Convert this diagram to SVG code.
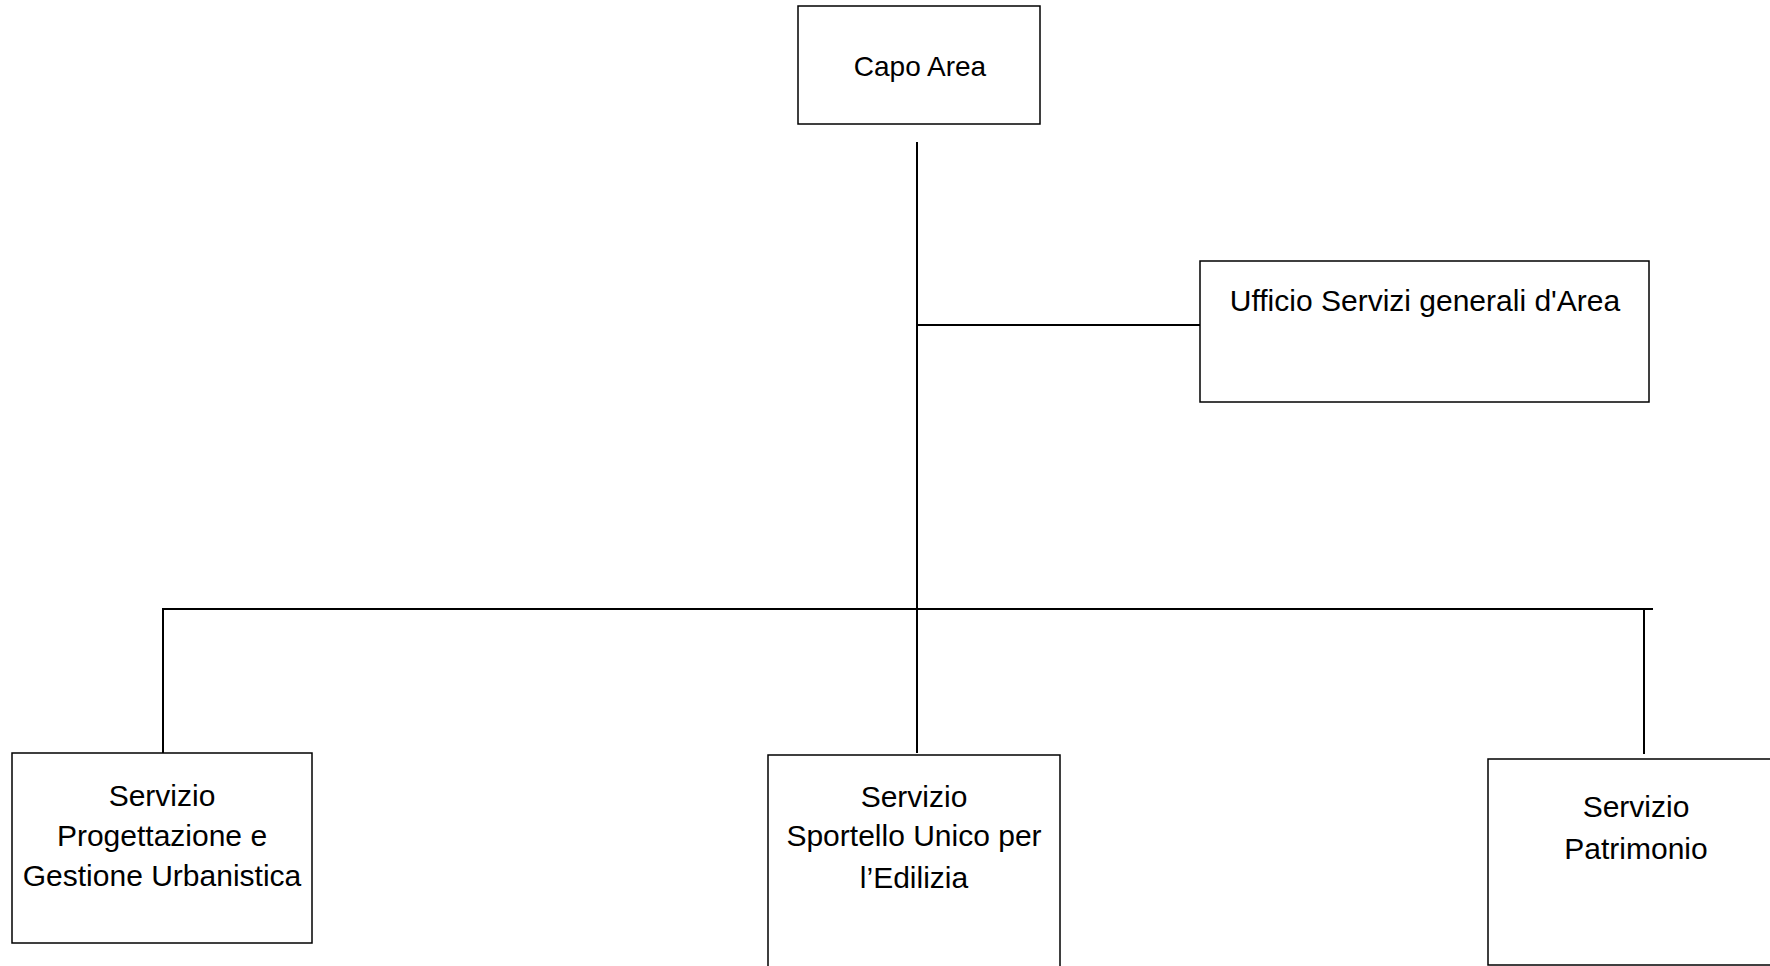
<svg xmlns="http://www.w3.org/2000/svg" width="1770" height="966" viewBox="0 0 1770 966">
<style>
.box{fill:#fff;stroke:#000;stroke-width:1.5}
.ln{stroke:#000;stroke-width:2;fill:none}
text{font-family:"Liberation Sans",Arial,sans-serif;font-size:30px;fill:#000;text-anchor:middle}
</style>
<rect width="1770" height="966" fill="#fff"/>
<g id="connectors">
<line class="ln" x1="917" y1="142" x2="917" y2="753"/>
<line class="ln" x1="917" y1="325" x2="1200" y2="325"/>
<line class="ln" x1="163" y1="609" x2="1653" y2="609"/>
<line class="ln" x1="163" y1="608" x2="163" y2="753"/>
<line class="ln" x1="1644" y1="609" x2="1644" y2="754"/>
</g>
<g id="capo-area">
<rect class="box" x="798" y="6" width="242" height="118"/>
<text x="920" y="76" style="font-size:28px">Capo Area</text>
</g>
<g id="ufficio-servizi">
<rect class="box" x="1200" y="261" width="449" height="141"/>
<text x="1425" y="311">Ufficio Servizi generali d'Area</text>
</g>
<g id="servizio-progettazione">
<rect class="box" x="12" y="753" width="300" height="190"/>
<text x="162" y="806">Servizio</text>
<text x="162" y="846">Progettazione e</text>
<text x="162" y="886">Gestione Urbanistica</text>
</g>
<g id="servizio-sportello">
<rect class="box" x="768" y="755" width="292" height="230"/>
<text x="914" y="807">Servizio</text>
<text x="914" y="846">Sportello Unico per</text>
<text x="914" y="888">l’Edilizia</text>
</g>
<g id="servizio-patrimonio">
<rect class="box" x="1488" y="759" width="300" height="206"/>
<text x="1636" y="817">Servizio</text>
<text x="1636" y="859">Patrimonio</text>
</g>
</svg>
